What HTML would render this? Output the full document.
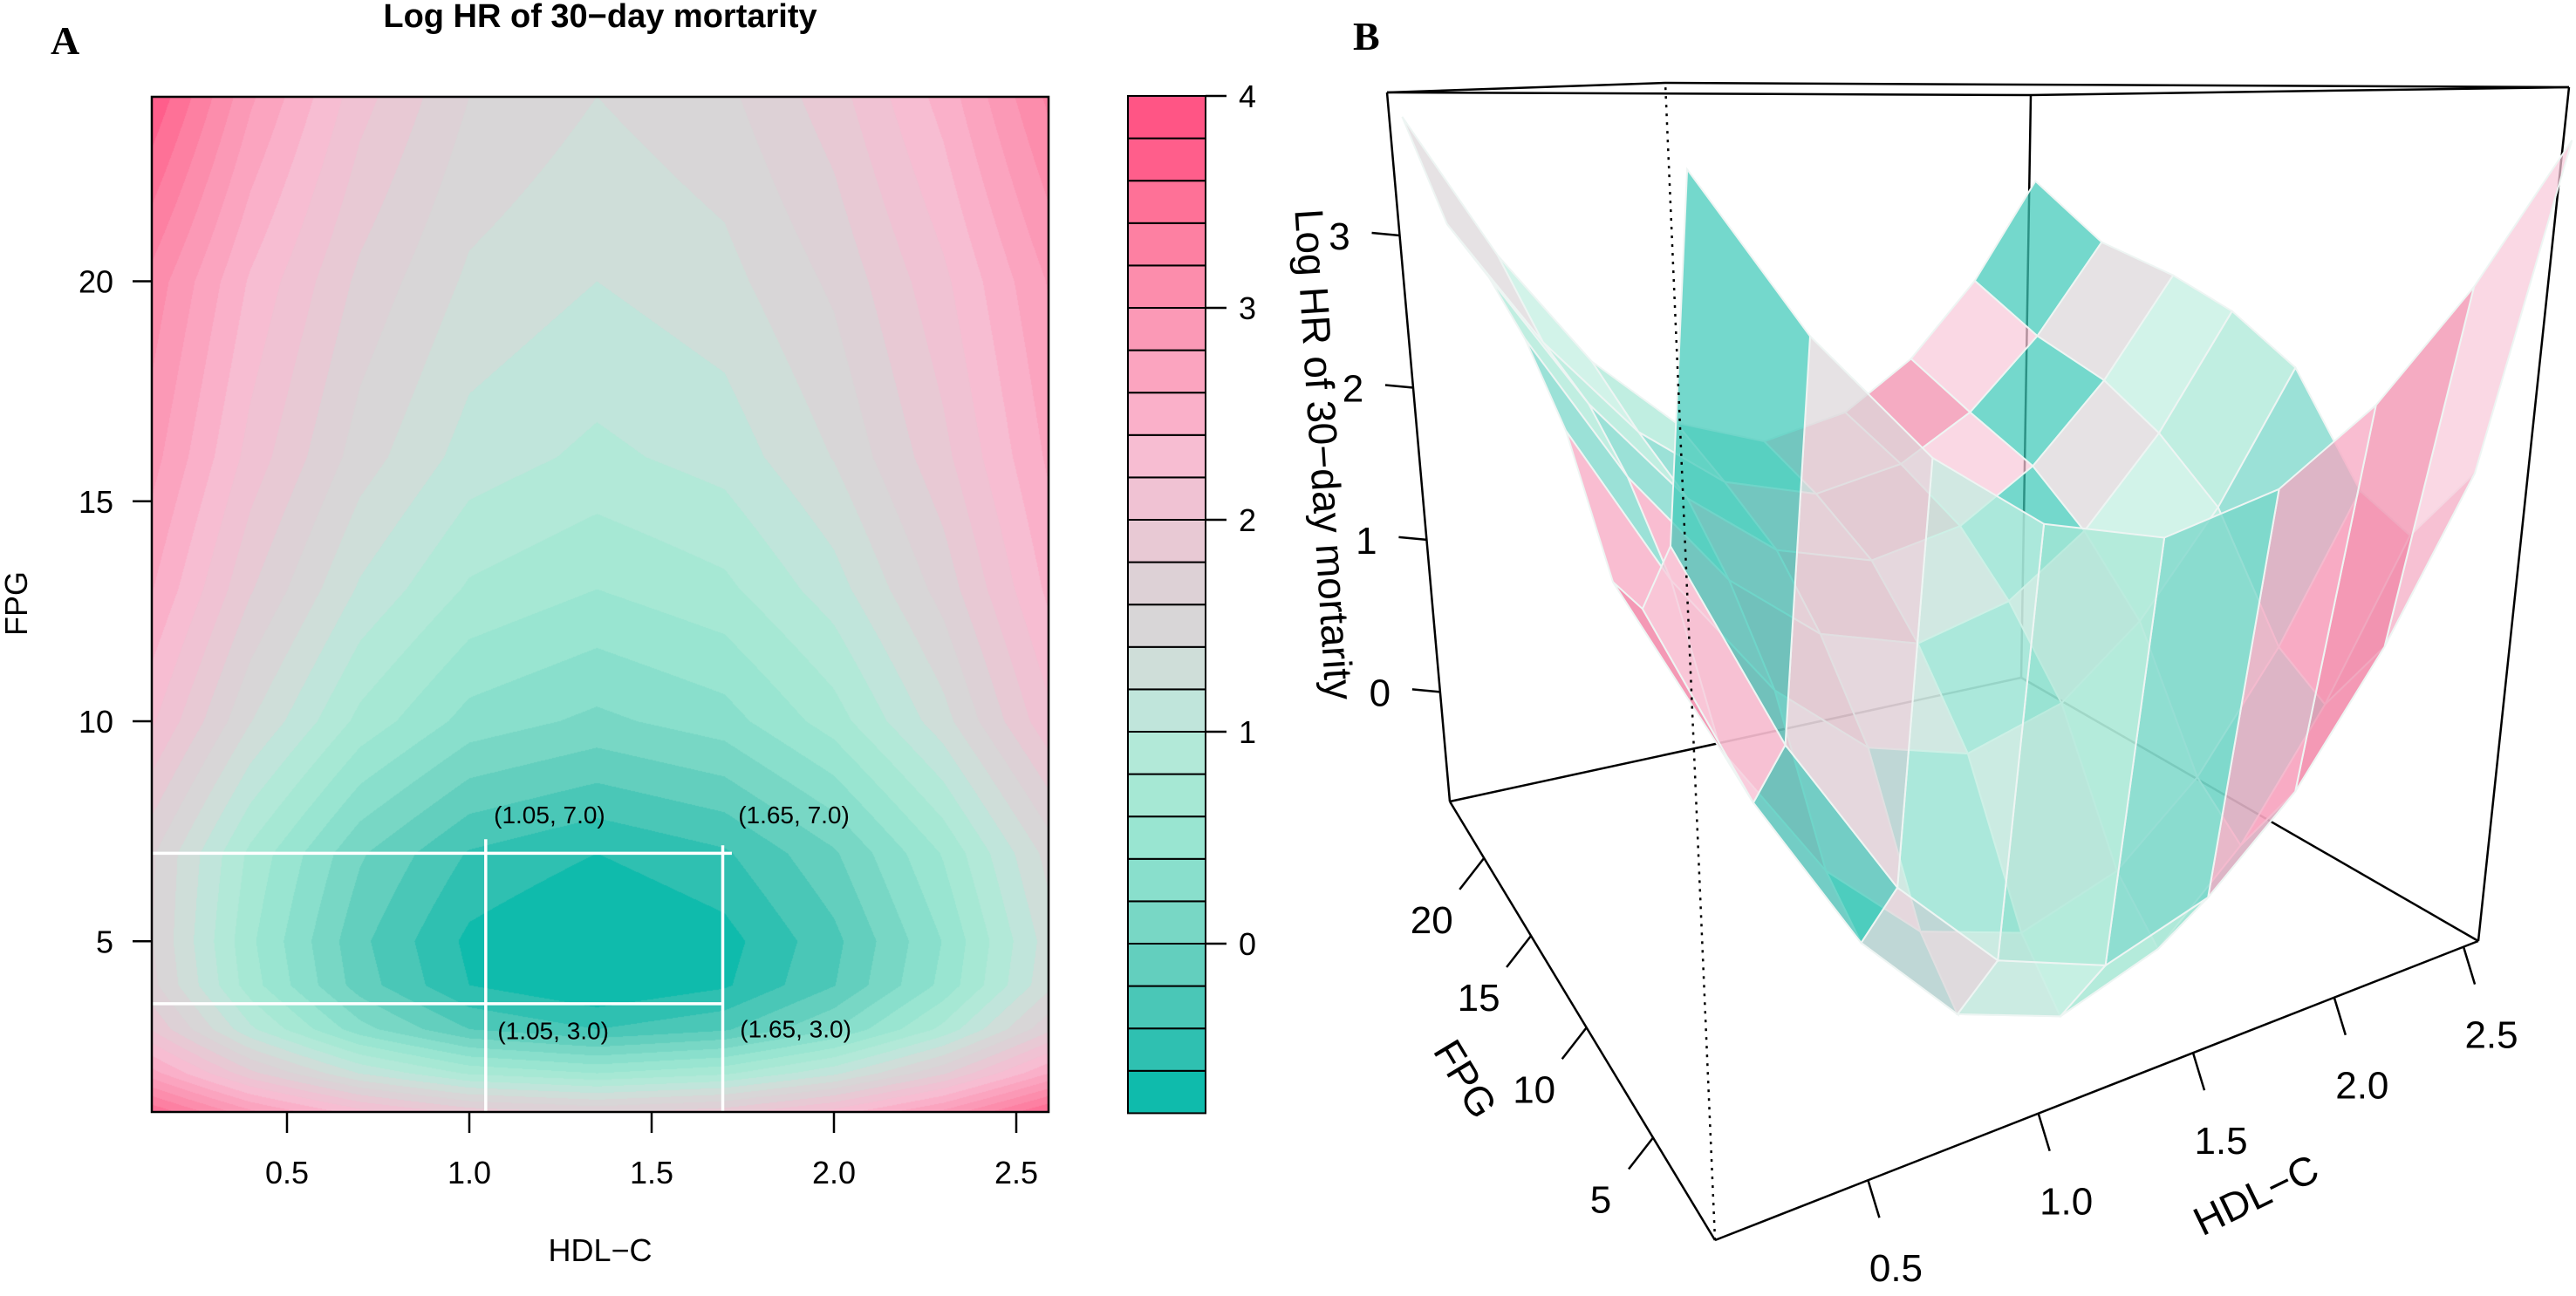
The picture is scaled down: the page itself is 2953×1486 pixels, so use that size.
<!DOCTYPE html>
<html><head><meta charset="utf-8">
<style>
html,body{margin:0;padding:0;background:#fff;width:2953px;height:1486px;overflow:hidden}
#hm{position:absolute;left:174px;top:111px}
#s{position:absolute;left:0;top:0}
text{font-family:"Liberation Sans",Arial,sans-serif;fill:#000}
</style></head>
<body>
<canvas id="hm" width="1028" height="1164"></canvas>
<svg id="s" width="2953" height="1486" viewBox="0 0 2953 1486">
  <text x="58" y="62" style="font-family:'Liberation Serif',serif;font-weight:bold;font-size:46px">A</text>
  <text x="688" y="31" text-anchor="middle" style="font-weight:bold;font-size:38px">Log HR of 30−day mortarity</text>
  <text x="688" y="1446" text-anchor="middle" style="font-size:36px">HDL−C</text>
  <text x="31" y="692" text-anchor="middle" transform="rotate(-90,31,692)" style="font-size:36px">FPG</text>
  <text x="1551" y="57" style="font-family:'Liberation Serif',serif;font-weight:bold;font-size:46px">B</text>
  <text x="1518" y="521" text-anchor="middle" transform="rotate(86.4,1518,521)" dy="16" style="font-size:46px">Log HR of 30−day mortarity</text>
  <text x="1680" y="1237" text-anchor="middle" transform="rotate(59,1680,1237)" dy="16" style="font-size:46px">FPG</text>
  <text x="2586" y="1370" text-anchor="middle" transform="rotate(-26,2586,1370)" dy="16" style="font-size:46px">HDL−C</text>
  <g id="gA"></g>
  <g id="gCB"></g>
  <g id="gB"></g>
</svg>
<script>
// ---------- Panel A data ----------
const hdlGridA=[0.13,0.4,0.7,1.0,1.35,1.7,2.0,2.3,2.59];
const fpgGridA=[1.1,2,3,4,5,7,10,13,16,20,24.2];
const zRow_1=[3.59,2.88,2.31,1.95,1.8,1.95,2.31,2.88,3.65];
const zRow_2=[2.68,1.86,1.19,0.77,0.6,0.76,1.15,1.77,2.6];
const zRow_3=[1.98,1.04,0.28,-0.2,-0.4,-0.23,0.19,0.86,1.75];
const zRow_4=[1.66,0.69,-0.10,-0.6,-0.8,-0.63,-0.21,0.46,1.35];
const zRow_5=[1.61,0.64,-0.15,-0.65,-0.85,-0.68,-0.26,0.41,1.30];
const zRow_7=[1.63,0.75,0.03,-0.42,-0.6,-0.43,-0.03,0.62,1.48];
const zRow_10=[2.23,1.41,0.74,0.32,0.15,0.31,0.7,1.32,2.15];
const zRow_13=[2.61,1.82,1.17,0.77,0.6,0.75,1.11,1.68,2.45];
const zRow_16=[2.88,2.12,1.50,1.11,0.95,1.08,1.41,1.94,2.64];
const zRow_20=[3.13,2.37,1.75,1.36,1.2,1.33,1.64,2.15,2.82];
const zRow_24=[3.78,2.84,2.08,1.60,1.4,1.55,1.91,2.48,3.25];
const zGridA=[zRow_1,zRow_2,zRow_3,zRow_4,zRow_5,zRow_7,zRow_10,zRow_13,zRow_16,zRow_20,zRow_24];
const xTicksA=[0.5,1.0,1.5,2.0,2.5];
const yTicksA=[5,10,15,20];
const refHdl=[1.045,1.695];
const refHdlTop=[7.32,7.18];
const refFpg=[7.0,3.58];
const refFpgEnd=[1.72,1.693];
const annText=["(1.05, 7.0)","(1.65, 7.0)","(1.05, 3.0)","(1.65, 3.0)"];
const annHdl=[1.22,1.89,1.23,1.895];
const annFpg=[7.88,7.88,2.97,3.01];
const cbTicks=[0,1,2,3,4];
const levelMin=-0.8, levelStep=0.2, levelCount=24;
// ---------- Panel B data ----------
const hdlGridB=[0.13,0.4,0.7,1.0,1.35,1.7,2.0,2.3,2.59];
const fpgGridB=[1.1,3,5,7,10,13,16,20,24.2];
const zB0=[3.59,2.88,2.31,1.95,1.8,1.95,2.31,2.88,3.65];
const zB1=[1.98,1.04,0.28,-0.2,-0.4,-0.23,0.19,0.86,1.75];
const zB2=[1.61,0.64,-0.15,-0.65,-0.85,-0.68,-0.26,0.41,1.30];
const zB3=[1.63,0.75,0.03,-0.42,-0.6,-0.43,-0.03,0.62,1.48];
const zB4=[2.23,1.41,0.74,0.32,0.15,0.31,0.7,1.32,2.15];
const zB5=[2.61,1.82,1.17,0.77,0.6,0.75,1.11,1.68,2.45];
const zB6=[2.88,2.12,1.50,1.11,0.95,1.08,1.41,1.94,2.64];
const zB7=[3.13,2.37,1.75,1.36,1.2,1.33,1.64,2.15,2.82];
const zB8=[3.78,2.84,2.08,1.60,1.4,1.55,1.91,2.48,3.25];
const zGridB=[zB0,zB1,zB2,zB3,zB4,zB5,zB6,zB7,zB8];
const hdlTicksB=[0.5,1.0,1.5,2.0,2.5];
const fpgTicksB=[5,10,15,20];
const zTicksB=[0,1,2,3];

const NS="http://www.w3.org/2000/svg";
function mk(tag,attrs,parent){const e=document.createElementNS(NS,tag);for(const k in attrs)e.setAttribute(k,attrs[k]);parent.appendChild(e);return e;}

const anchV=[-0.8,-0.4,0.0,0.4,0.8,1.0,1.2,1.4,1.7,2.0,2.3,2.6,3.0,3.4,3.8];
const anchC=["#00b8a9","#3ec3b3","#6fd3c2","#92e3cf","#ace9d6","#b8e8da","#c8e2db","#d5d9d7","#ddd1d6","#edc5d3","#f7bdd2","#fba9c4","#fb94b1","#fd7a9d","#ff5585"];
function hex(c){return [parseInt(c.substr(1,2),16),parseInt(c.substr(3,2),16),parseInt(c.substr(5,2),16)];}
function ramp(v){
  if(v<=anchV[0])return hex(anchC[0]);
  for(let i=0;i<anchV.length-1;i++){if(v<=anchV[i+1]){const t=(v-anchV[i])/(anchV[i+1]-anchV[i]);const a=hex(anchC[i]),b=hex(anchC[i+1]);return [0,1,2].map(k=>Math.round(a[k]+(b[k]-a[k])*t));}}
  return hex(anchC[anchC.length-1]);
}
const bandCols=[];for(let k=0;k<levelCount;k++)bandCols.push(ramp(levelMin+levelStep*(k+0.5)));

// ---------- Panel A ----------
const xA=v=>120+418*v, yA=v=>1331.5-50.45*v;
const PL=174,PR=1202,PT=111,PB=1275;
function findIdx(g,v){let i=0;while(i<g.length-2&&v>g[i+1])i++;return i;}
function zAt(h,f){
  const i=findIdx(hdlGridA,h),j=findIdx(fpgGridA,f);
  let tx=(h-hdlGridA[i])/(hdlGridA[i+1]-hdlGridA[i]),ty=(f-fpgGridA[j])/(fpgGridA[j+1]-fpgGridA[j]);
  tx=Math.max(0,Math.min(1,tx));ty=Math.max(0,Math.min(1,ty));
  const a=zGridA[j][i],b=zGridA[j][i+1],c=zGridA[j+1][i],d=zGridA[j+1][i+1];
  return (1-tx)*(1-ty)*a+tx*(1-ty)*b+(1-tx)*ty*c+tx*ty*d;
}
(function(){
  const cv=document.getElementById('hm'),ctx=cv.getContext('2d');
  const W=cv.width,H=cv.height,img=ctx.createImageData(W,H);
  for(let py=0;py<H;py++){const f=(1331.5-(PT+py+0.5))/50.45;
    for(let px=0;px<W;px++){const h=(PL+px+0.5-120)/418;
      let k=Math.floor((zAt(h,f)-levelMin)/levelStep);k=Math.max(0,Math.min(levelCount-1,k));
      const c=bandCols[k],o=(py*W+px)*4;img.data[o]=c[0];img.data[o+1]=c[1];img.data[o+2]=c[2];img.data[o+3]=255;}}
  ctx.putImageData(img,0,0);
})();
const gA=document.getElementById('gA');
for(let i=0;i<refFpg.length;i++){
  const l=mk('line',{x1:PL,x2:xA(refFpgEnd[i]),y1:yA(refFpg[i]),y2:yA(refFpg[i]),stroke:'#fff','stroke-width':3.5},gA);
  
  
}
for(let i=0;i<refHdl.length;i++){
  const l=mk('line',{x1:xA(refHdl[i]),x2:xA(refHdl[i]),y1:yA(refHdlTop[i]),y2:PB,stroke:'#fff','stroke-width':3.5},gA);
  
  
}
for(let i=0;i<annText.length;i++){
  const t=mk('text',{x:xA(annHdl[i]),y:yA(annFpg[i])+10,'text-anchor':'middle',style:'font-size:28px'},gA);t.textContent=annText[i];
  
  
}
const fr=mk('rect',{x:PL,y:PT,width:PR-PL,height:PB-PT,fill:'none',stroke:'#000','stroke-width':2.5},gA);


xTicksA.forEach(v=>{
  const l=mk('line',{x1:xA(v),x2:xA(v),y1:PB,y2:PB+24,stroke:'#000','stroke-width':2.5},gA);
  
  
  const t=mk('text',{x:xA(v),y:1357,'text-anchor':'middle',style:'font-size:36px'},gA);t.textContent=v.toFixed(1);
  
  
});
yTicksA.forEach(v=>{
  const l=mk('line',{x1:PL-22,x2:PL,y1:yA(v),y2:yA(v),stroke:'#000','stroke-width':2.5},gA);
  
  
  const t=mk('text',{x:130,y:yA(v)+13,'text-anchor':'end',style:'font-size:36px'},gA);t.textContent=String(v);
  
  
});

// ---------- Colorbar ----------
const gCB=document.getElementById('gCB');
const cbY=v=>1082-243*v, CBL=1293, CBR=1382;
for(let k=0;k<levelCount;k++){
  const lo=levelMin+levelStep*k,c=bandCols[k];
  const r=mk('rect',{x:CBL,y:cbY(lo+levelStep),width:CBR-CBL,height:cbY(lo)-cbY(lo+levelStep),fill:`rgb(${c[0]},${c[1]},${c[2]})`,stroke:'#000','stroke-width':2},gCB);
  
  
}
cbTicks.forEach(v=>{
  const l=mk('line',{x1:CBR,x2:CBR+24,y1:cbY(v),y2:cbY(v),stroke:'#000','stroke-width':2.5},gCB);
  
  
  const t=mk('text',{x:CBR+38,y:cbY(v)+13,style:'font-size:36px'},gCB);t.textContent=String(v);
  
  
});

// ---------- Panel B (3D) ----------
const gB=document.getElementById('gB');
const hMin=0.09,hMax=2.56,fMin=1.1,fMax=24.2,zMin=-0.72,zMax=3.94;
const FB=[1966,1422],RB=[2841,1079],LB=[1662,919],BB=[2317,777];
const FT=[1909,95],RT=[2945,100],LT=[1590,106],BT=[2328,109];
function warp(t,c){return c*t/(1+(c-1)*t);}
function bl(a,b,c,d,u,v){return [0,1].map(k=>(1-u)*(1-v)*a[k]+u*(1-v)*b[k]+(1-u)*v*c[k]+u*v*d[k]);}
function proj(h,f,z){
  const u=warp((h-hMin)/(hMax-hMin),1.26),v=warp((f-fMin)/(fMax-fMin),1.5),w=(z-zMin)/(zMax-zMin);
  const b=bl(FB,RB,LB,BB,u,v),t=bl(FT,RT,LT,BT,u,v);
  return [b[0]+(t[0]-b[0])*w,b[1]+(t[1]-b[1])*w];
}
function edge(a,b,dash,name){
  const l=mk('line',{x1:a[0],y1:a[1],x2:b[0],y2:b[1],stroke:'#000','stroke-width':2.5},gB);
  if(dash)l.setAttribute('stroke-dasharray','3,7');
  
  
}
edge(LB,BB,false,'box-edge');edge(BB,RB,false,'box-edge');edge(BB,BT,false,'box-edge');
edge(LT,BT,false,'box-edge');edge(BT,RT,false,'box-edge');edge(LT,FT,false,'box-edge');edge(FT,RT,false,'box-edge');
edge(LB,LT,false,'box-edge');edge(RB,RT,false,'box-edge');
const facetPal=['#3ec9b9','#f7a3bf','#c0efe0','#f8c9d9','#74d6c8','#dcd7d9','#f18aab','#a8e8d5'];
const facets=[];
for(let j=0;j<fpgGridB.length-1;j++)for(let i=0;i<hdlGridB.length-1;i++){
  facets.push({i,j,d:(i+0.5)/(hdlGridB.length-1)+(j+0.5)/(fpgGridB.length-1)});
}
facets.sort((a,b)=>b.d-a.d);
facets.forEach(F=>{
  const {i,j}=F;
  const pts=[proj(hdlGridB[i],fpgGridB[j],zGridB[j][i]),proj(hdlGridB[i+1],fpgGridB[j],zGridB[j][i+1]),
             proj(hdlGridB[i+1],fpgGridB[j+1],zGridB[j+1][i+1]),proj(hdlGridB[i],fpgGridB[j+1],zGridB[j+1][i])];
  const p=mk('polygon',{points:pts.map(q=>q[0].toFixed(1)+','+q[1].toFixed(1)).join(' '),fill:facetPal[(i*5+j*3)%8],'fill-opacity':0.72,stroke:'#eef5f3','stroke-width':2},gB);
  
  
});
edge(FB,LB,false,'box-edge');edge(FB,RB,false,'box-edge');edge(FB,FT,true,'box-edge-dotted');
hdlTicksB.forEach(v=>{
  const e=proj(v,fMin,zMin);
  const l=mk('line',{x1:e[0],y1:e[1],x2:e[0]+13,y2:e[1]+43,stroke:'#000','stroke-width':2.5},gB);
  
  
  const t=mk('text',{x:e[0]+32,y:e[1]+100+16,'text-anchor':'middle',style:'font-size:44px'},gB);t.textContent=v.toFixed(1);
  
  
});
fpgTicksB.forEach(v=>{
  const e=proj(hMin,v,zMin);
  const l=mk('line',{x1:e[0],y1:e[1],x2:e[0]-28,y2:e[1]+36,stroke:'#000','stroke-width':2.5},gB);
  
  
  const t=mk('text',{x:e[0]-60,y:e[1]+70+16,'text-anchor':'middle',style:'font-size:44px'},gB);t.textContent=String(v);
  
  
});
zTicksB.forEach(v=>{
  const e=proj(hMin,fMax,v);
  const l=mk('line',{x1:e[0],y1:e[1],x2:e[0]-32,y2:e[1]-3,stroke:'#000','stroke-width':2.5},gB);
  
  
  const t=mk('text',{x:e[0]-69,y:e[1]+16,'text-anchor':'middle',style:'font-size:44px'},gB);t.textContent=String(v);
  
  
});
</script>
</body></html>
